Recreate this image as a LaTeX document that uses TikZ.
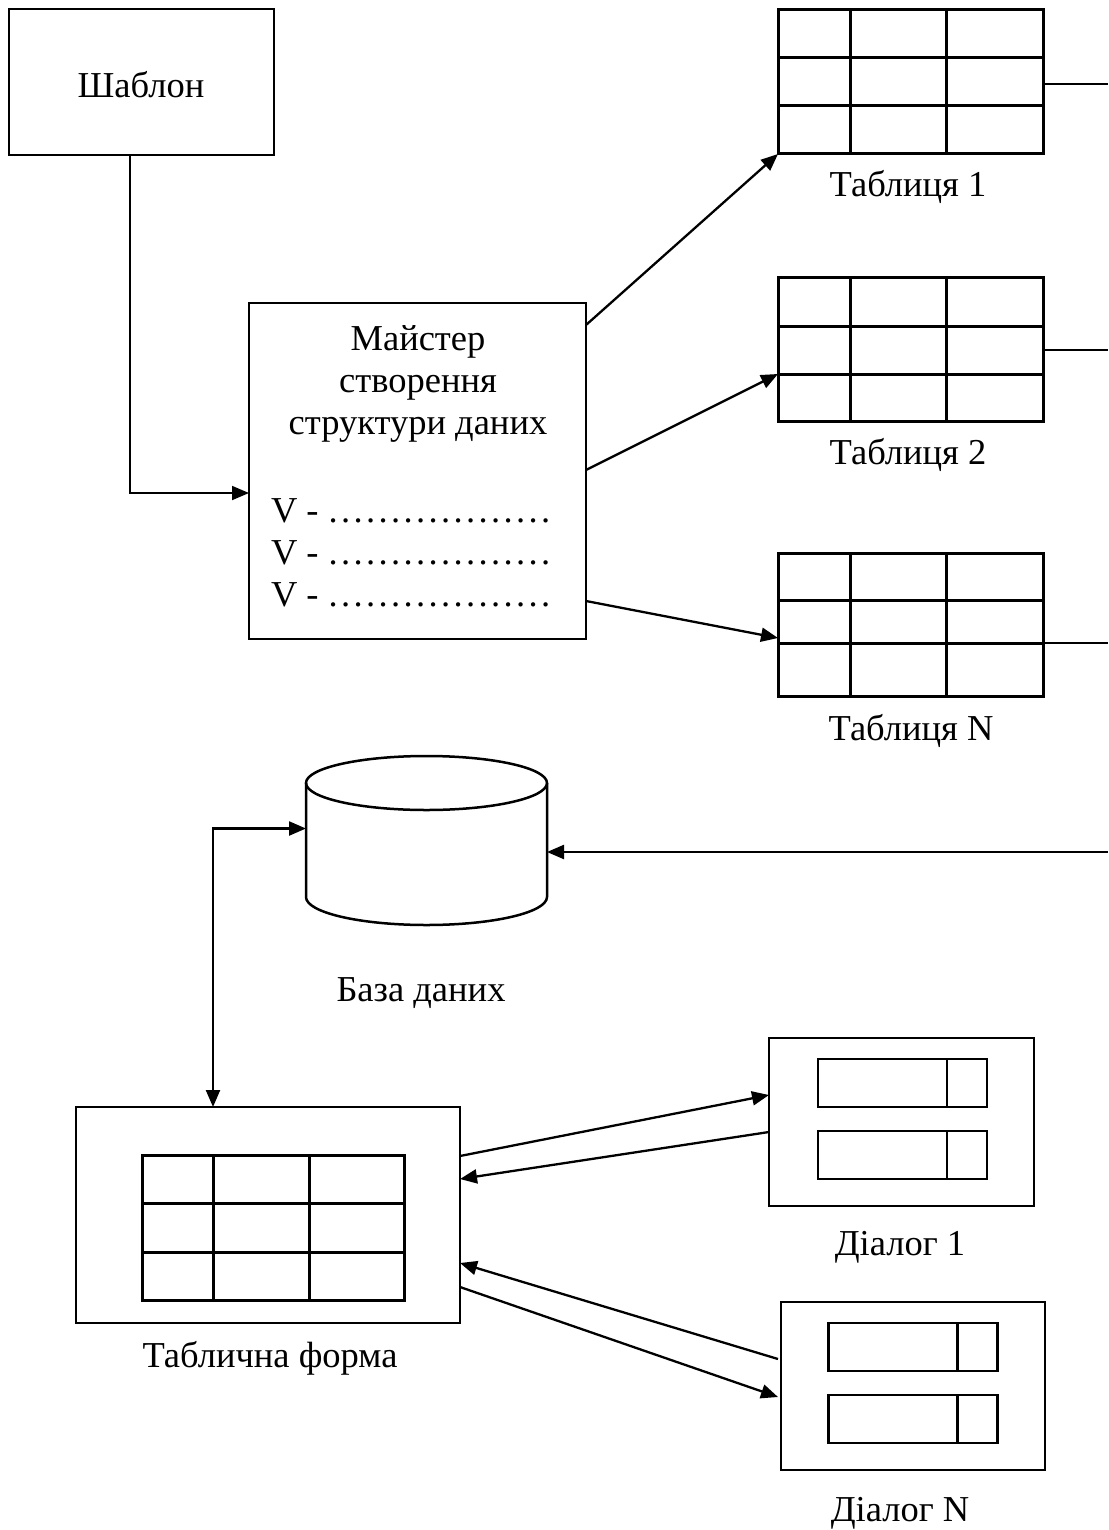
\documentclass[tikz,border=0pt]{standalone}
\usepackage{fontspec}
\setmainfont{Liberation Serif}
\usetikzlibrary{arrows.meta,calc}

\tikzset{
  every node/.style={inner sep=0pt, outer sep=0pt},
  frame/.style={draw, line width=2.5pt},
  gridbox/.style={draw, line width=3pt, minimum width=265pt},
  gridline/.style={line width=3pt},
  fieldbox/.style={draw, line width=2.2pt, minimum width=169pt, minimum height=48pt},
  fieldline/.style={line width=2.2pt},
  lbl/.style={font=\fontsize{36.5}{42}\selectfont, anchor=base},
  arrowtip/.tip={Triangle[length=17pt,width=14pt]},
  conn/.style={line width=2.3pt, -arrowtip},
  bothconn/.style={line width=2.3pt, arrowtip-arrowtip},
  plainconn/.style={line width=2.3pt},
  tip/.style={-arrowtip}
}

% inner lines of a 3x3 table: node name, two column offsets, two row offsets
\newcommand\tabgrid[5]{%
  \draw[gridline] ($(#1.north west)+(#2,0)$) -- ($(#1.south west)+(#2,0)$);
  \draw[gridline] ($(#1.north west)+(#3,0)$) -- ($(#1.south west)+(#3,0)$);
  \draw[gridline] ($(#1.north west)+(0,#4)$) -- ($(#1.north east)+(0,#4)$);
  \draw[gridline] ($(#1.north west)+(0,#5)$) -- ($(#1.north east)+(0,#5)$);
}
% divider of an input field with its button
\newcommand\fieldbar[1]{%
  \draw[fieldline] ($(#1.north west)+(129,0)$) -- ($(#1.south west)+(129,0)$);
}
% a row of 18 evenly spaced dots
\newcommand\dotcell{\makebox[12.5pt][c]{.}}
\newcommand\dotsix{\dotcell\dotcell\dotcell\dotcell\dotcell\dotcell}
\newcommand\dotrow{\dotsix\dotsix\dotsix}

\begin{document}
\begin{tikzpicture}[x=1pt, y=-1pt]
\fill[white] (0,0) rectangle (1108,1530);
\useasboundingbox (0,0) rectangle (1108,1530);

% template
\node[frame, line width=2.2pt, minimum width=265pt, minimum height=146pt] (shab) at (141.5,82) {};
\node[lbl] (shabt) at (141,98) {Шаблон};

% wizard
\node[frame, minimum width=337pt, minimum height=336pt] (mst) at (417.5,471) {};
\node[lbl] (m1) at (418,350) {Майстер};
\node[lbl] (m2) at (418,392) {створення};
\node[lbl] (m3) at (418,434) {структури даних};
\node[lbl, anchor=base west] (v1) at (271,522) {V -};
\node[lbl, anchor=base west] (v2) at (271,564) {V -};
\node[lbl, anchor=base west] (v3) at (271,606) {V -};
\node[lbl, anchor=base west] (p1) at (327,522) {\dotrow};
\node[lbl, anchor=base west] (p2) at (327,564) {\dotrow};
\node[lbl, anchor=base west] (p3) at (327,606) {\dotrow};

% tables
\node[gridbox, minimum height=144pt] (t1) at (910.5,82) {};
\tabgrid{t1}{72}{168}{48}{96}
\node[lbl] (t1l) at (908,197) {Таблиця 1};

\node[gridbox, minimum height=144pt] (t2) at (910.5,349) {};
\tabgrid{t2}{72}{168}{49}{97}
\node[lbl] (t2l) at (908,464) {Таблиця 2};

\node[gridbox, minimum height=143pt] (tN) at (910.5,624.5) {};
\tabgrid{tN}{72}{168}{47}{90}
\node[lbl] (tNl) at (911,740) {Таблиця N};

% database
\node[minimum width=241pt, minimum height=169pt] (db) at (426.5,840.5) {};
\draw[frame] ($(db.north)+(0,27)$) ellipse [x radius=120.5, y radius=27];
\draw[frame] ($(db.north west)+(0,27)$) -- ($(db.south west)+(0,-28)$)
  arc[start angle=180, end angle=0, x radius=120.5, y radius=28]
  -- ($(db.north east)+(0,27)$);
\node[lbl] (dbl) at (421,1001) {База даних};

% table form
\node[frame, line width=2.3pt, minimum width=384pt, minimum height=216pt] (form) at (268,1215) {};
\node[gridbox, minimum width=262pt, minimum height=145pt] (ftab) at (273,1227.5) {};
\tabgrid{ftab}{71}{167}{48}{97}
\node[lbl] (forml) at (270,1367) {Таблична форма};

% dialogs
\node[frame, minimum width=265pt, minimum height=168pt] (d1) at (901.5,1122) {};
\node[fieldbox] (d1a) at (902.5,1083) {};
\fieldbar{d1a}
\node[fieldbox] (d1b) at (902.5,1155) {};
\fieldbar{d1b}
\node[lbl] (d1l) at (900,1255) {Діалог 1};

\node[frame, minimum width=264pt, minimum height=168pt] (dN) at (913,1386) {};
\node[fieldbox] (dNa) at (913,1347) {};
\fieldbar{dNa}
\node[fieldbox] (dNb) at (913,1419) {};
\fieldbar{dNb}
\node[lbl] (dNl) at (900,1521) {Діалог N};

% free ends at the right border
\coordinate (e1) at (1108,84);
\coordinate (e2) at (1108,350);
\coordinate (eN) at (1108,643);
\coordinate (edb) at (1108,852);

% connectors
\draw[line width=1.8pt, tip] ($(shab.south west)+(121,0)$) |- ($(mst.west)+(0,22)$);
\draw[conn] ($(mst.north east)+(0,22)$) -- (t1.south west);
\draw[conn] ($(mst.east)+(0,-1)$) -- ($(t2.north west)+(0,97)$);
\draw[conn] ($(mst.east)+(0,130)$) -- ($(tN.north west)+(0,85)$);
\draw[plainconn] (t1.east |- e1) -- (e1);
\draw[plainconn] (t2.east |- e2) -- (e2);
\draw[plainconn] (tN.east |- eN) -- (eN);
\draw[conn] (edb) -- (db.east |- edb);
\draw[bothconn] ($(form.north west)+(137,0)$) |- ($(db.west)+(0,-12)$);
\draw[conn] ($(form.north east)+(0,49)$) -- ($(d1.north west)+(0,57)$);
\draw[conn] ($(d1.north west)+(0,94)$) -- ($(form.north east)+(0,72)$);
\draw[conn] ($(dN.north west)+(-3,57)$) -- ($(form.north east)+(0,156)$);
\draw[conn] ($(form.north east)+(0,180)$) -- ($(dN.north west)+(-3,95)$);
\end{tikzpicture}
\end{document}
